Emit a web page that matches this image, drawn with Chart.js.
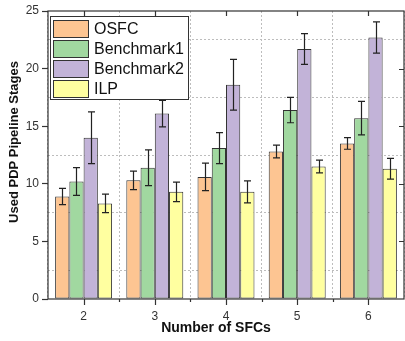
<!DOCTYPE html>
<html>
<head>
<meta charset="utf-8">
<script src="https://cdn.jsdelivr.net/npm/chart.js@4.4.1/dist/chart.umd.min.js"></script>
<style>
  html, body { margin: 0; padding: 0; background: #fff; }
  #wrap { width: 405px; height: 341px; }
</style>
</head>
<body>
<div id="wrap"><canvas id="chart" width="405" height="341"></canvas></div>
<script>
const categories = ["2", "3", "4", "5", "6"];
const seriesNames = ["OSFC", "Benchmark1", "Benchmark2", "ILP"];

const osfc = [8.9, 10.3, 10.6, 12.8, 13.5];
const osfcErr = [0.7, 0.8, 1.2, 0.55, 0.5];
const bench1 = [10.2, 11.4, 13.1, 16.4, 15.7];
const bench1Err = [1.2, 1.55, 1.35, 1.1, 1.45];
const bench2 = [14.0, 16.1, 18.6, 21.7, 22.7];
const bench2Err = [2.25, 1.15, 2.2, 1.33, 1.35];
const ilp = [8.3, 9.3, 9.3, 11.5, 11.3];
const ilpErr = [0.8, 0.85, 0.95, 0.55, 0.9];

const yMin = 0;
const yMax = 25;
const yStep = 2.5;

const colors = ["#FDC592", "#A1D8A0", "#C2B3D8", "#FFFFA0"];
const values = [osfc, bench1, bench2, ilp];
const errors = [osfcErr, bench1Err, bench2Err, ilpErr];

const FONT = "'Liberation Sans', Arial, sans-serif";
const AXIS = "#333";

// error bars, drawn from the bar elements and the y scale
const errorBars = {
  id: "errorBars",
  afterDatasetsDraw(chart) {
    const ctx = chart.ctx;
    const y = chart.scales.y;
    ctx.save();
    ctx.strokeStyle = "#222";
    ctx.lineWidth = 1.2;
    chart.data.datasets.forEach((ds, i) => {
      const meta = chart.getDatasetMeta(i);
      meta.data.forEach((bar, j) => {
        const v = ds.data[j];
        const e = ds.errors[j];
        const top = y.getPixelForValue(v + e);
        const bot = y.getPixelForValue(v - e);
        const x = Math.round(bar.x) + 0.5;
        ctx.beginPath();
        ctx.moveTo(x, top);
        ctx.lineTo(x, bot);
        ctx.moveTo(x - 3.5, top);
        ctx.lineTo(x + 3.5, top);
        ctx.moveTo(x - 3.5, bot);
        ctx.lineTo(x + 3.5, bot);
        ctx.stroke();
      });
    });
    ctx.restore();
  }
};

// box, extra ticks, titles and legend
const frame = {
  id: "frame",
  afterDraw(chart) {
    const ctx = chart.ctx;
    const a = chart.chartArea;
    const x = chart.scales.x;
    const y = chart.scales.y;
    ctx.save();
    ctx.strokeStyle = AXIS;
    ctx.lineWidth = 1.2;
    ctx.strokeRect(a.left, a.top, a.right - a.left, a.bottom - a.top);

    ctx.beginPath();
    categories.forEach((c, i) => {
      const px = Math.round(x.getPixelForValue(i)) + 0.5;
      ctx.moveTo(px, a.bottom);
      ctx.lineTo(px, a.bottom + 6);
      ctx.moveTo(px, a.top);
      ctx.lineTo(px, a.top + 5);
      if (i < categories.length - 1) {
        const mx = Math.round((x.getPixelForValue(i) + x.getPixelForValue(i + 1)) / 2) + 0.5;
        ctx.moveTo(mx, a.bottom);
        ctx.lineTo(mx, a.bottom + 3);
      }
    });
    for (let v = yMin + 5; v < yMax; v += 5) {
      const py = Math.round(y.getPixelForValue(v)) + 0.5;
      ctx.moveTo(a.right, py);
      ctx.lineTo(a.right - 5, py);
    }
    ctx.stroke();

    // axis titles
    ctx.fillStyle = "#111";
    ctx.font = "bold 14px " + FONT;
    ctx.textAlign = "center";
    ctx.textBaseline = "middle";
    ctx.fillText("Number of SFCs", 216, 328);
    ctx.save();
    ctx.translate(14, 142);
    ctx.rotate(-Math.PI / 2);
    ctx.font = "bold 13px " + FONT;
    ctx.fillText("Used PDP Pipeline Stages", 0, 0);
    ctx.restore();

    // legend
    const lx = 50, ly = 16, lw = 138, lh = 83;
    ctx.fillStyle = "#fff";
    ctx.fillRect(lx, ly, lw, lh);
    ctx.strokeStyle = AXIS;
    ctx.lineWidth = 1;
    ctx.strokeRect(lx + 0.5, ly + 0.5, lw, lh);
    ctx.font = "16px " + FONT;
    ctx.textAlign = "left";
    chart.data.datasets.forEach((ds, i) => {
      const cy = 29 + i * 20;
      ctx.fillStyle = ds.backgroundColor;
      ctx.fillRect(53, cy - 9, 36, 18);
      ctx.strokeStyle = AXIS;
      ctx.strokeRect(53.5, cy - 9 + 0.5, 35, 17);
      ctx.fillStyle = "#111";
      ctx.fillText(ds.label, 94, cy + 1);
    });
    ctx.restore();
  }
};

new Chart(document.getElementById("chart"), {
  type: "bar",
  data: {
    labels: categories,
    datasets: seriesNames.map((name, i) => ({
      label: name,
      data: values[i],
      errors: errors[i],
      backgroundColor: colors[i],
      borderColor: AXIS,
      borderWidth: 1,
      borderSkipped: false,
      categoryPercentage: 0.8,
      barPercentage: 1.0
    }))
  },
  options: {
    responsive: false,
    animation: false,
    devicePixelRatio: 1,
    layout: { padding: { left: 0, right: 1, top: 11, bottom: 0 } },
    plugins: {
      legend: { display: false },
      tooltip: { enabled: false }
    },
    scales: {
      x: {
        afterFit: (s) => { s.height = 42; },
        grid: {
          offset: true,
          color: "#bdbdbd",
          drawTicks: false
        },
        border: { display: false, dash: [2, 2] },
        ticks: {
          color: AXIS,
          padding: 10,
          font: { family: FONT, size: 12 }
        }
      },
      y: {
        min: yMin,
        max: yMax,
        afterFit: (s) => { s.width = 48; },
        grid: {
          color: (c) => (c.tick && c.tick.value % 5 !== 0 ? "#bdbdbd" : "rgba(0,0,0,0)"),
          tickColor: (c) => (c.tick && c.tick.value % 5 === 0 ? AXIS : "rgba(0,0,0,0)"),
          tickLength: 6,
          tickWidth: 1.2
        },
        border: { display: false, dash: [2, 2] },
        ticks: {
          stepSize: yStep,
          color: AXIS,
          padding: 3,
          font: { family: FONT, size: 12 },
          callback: (v) => (v % 5 === 0 ? v : "")
        }
      }
    }
  },
  plugins: [errorBars, frame]
});
</script>
</body>
</html>
